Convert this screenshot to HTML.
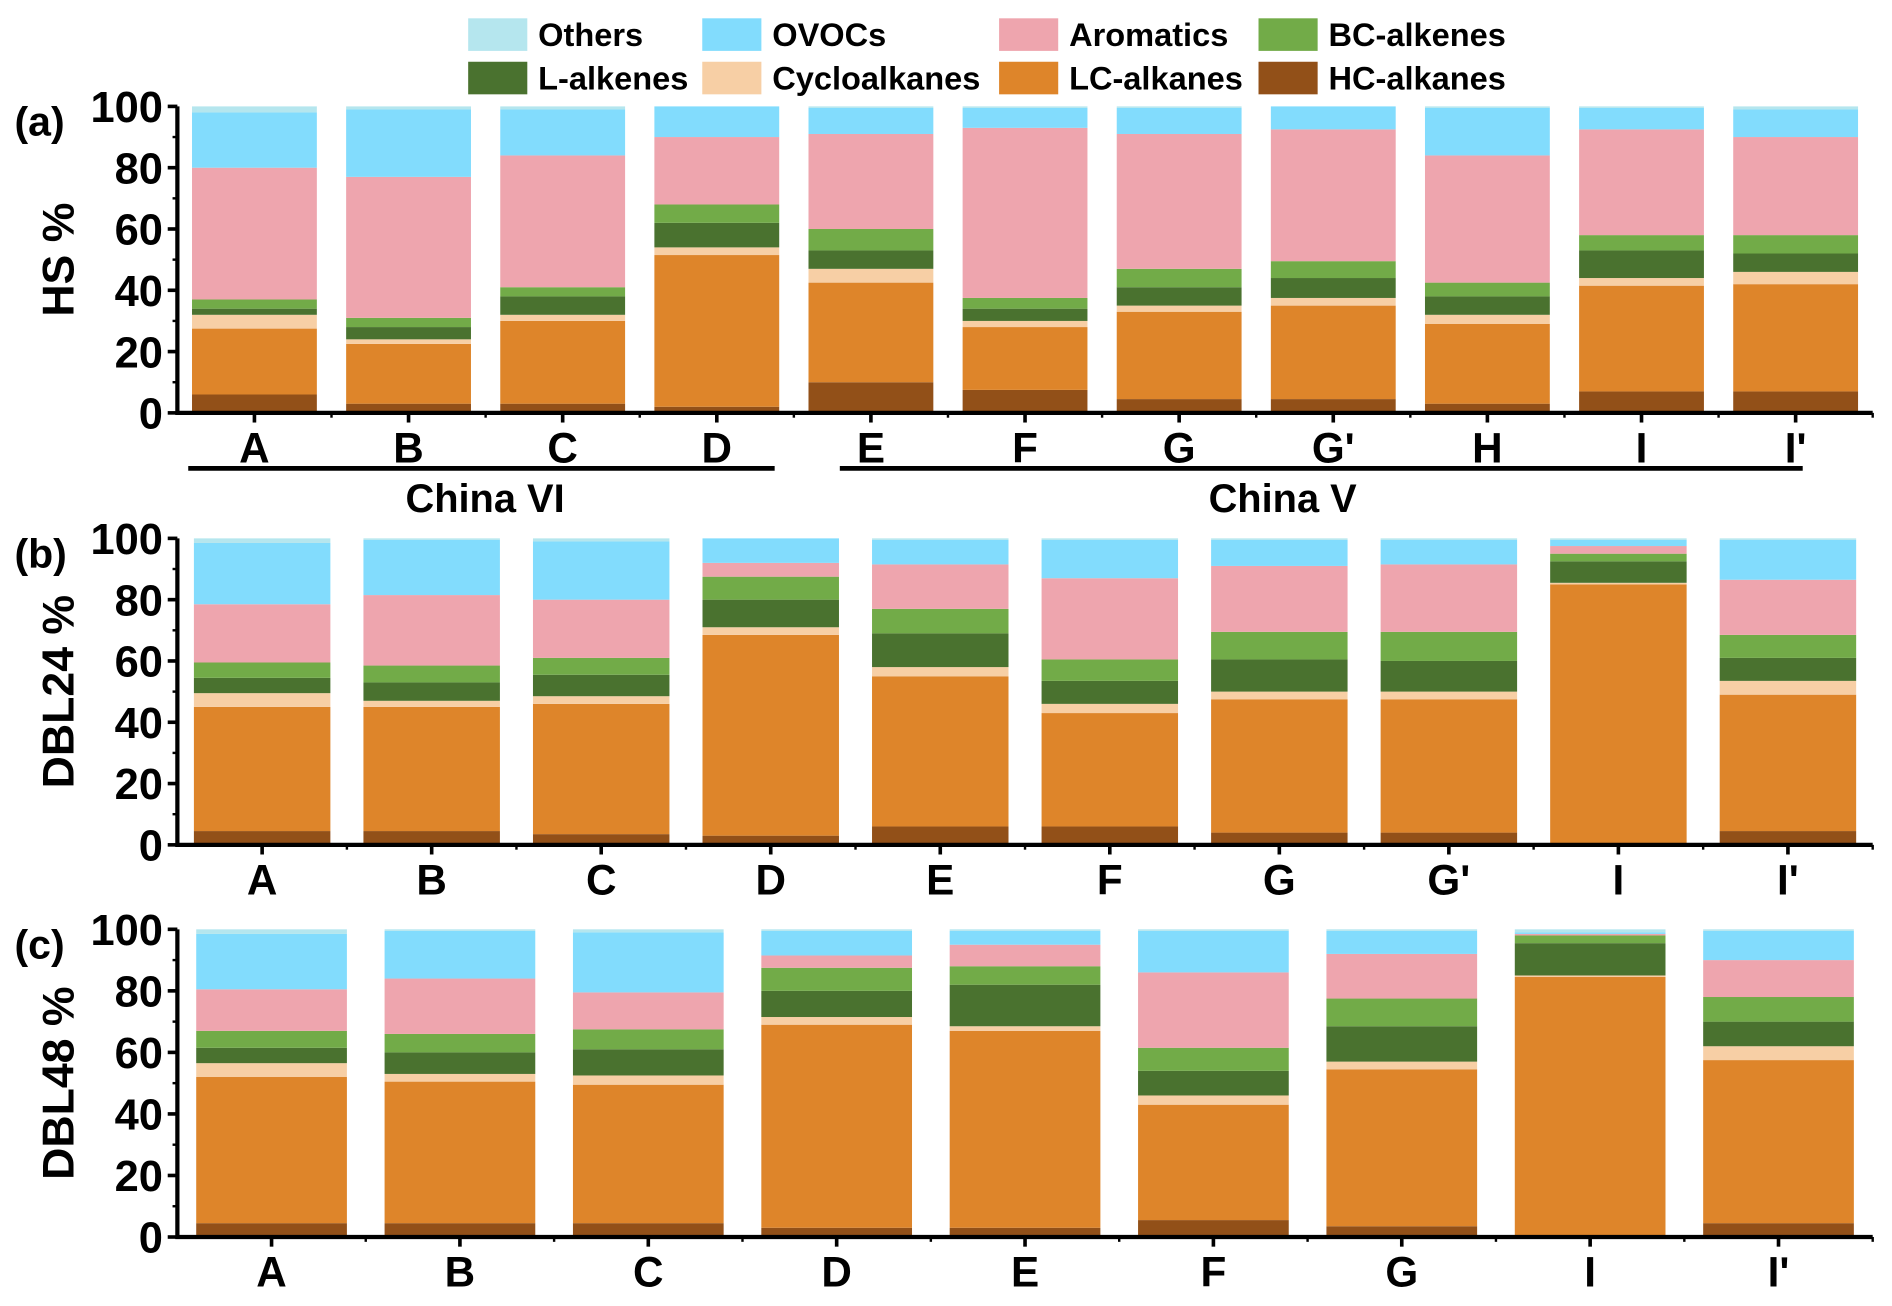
<!DOCTYPE html>
<html><head><meta charset="utf-8"><style>
html,body{margin:0;padding:0;background:#fff}
svg{display:block}
text{font-family:"Liberation Sans",sans-serif;font-weight:bold;fill:#000}
</style></head><body>
<svg id="chart" width="1892" height="1306" viewBox="0 0 1568 1082" xmlns="http://www.w3.org/2000/svg"></svg>
<script>
const seriesNames = ["HC-alkanes","LC-alkanes","Cycloalkanes","L-alkenes","BC-alkenes","Aromatics","OVOCs","Others"];
const seriesColors = ["#925018","#de852a","#f7cfa5","#4a722f","#72ab48","#eea5ae","#82dcfd","#b5e6ee"];
const tickLabels = ["0","20","40","60","80","100"];

const catsA = ["A","B","C","D","E","F","G","G'","H","I","I'"];
const hcA   = [6,3,3,2,10,7.5,4.5,4.5,3,7,7];
const lcA   = [21.5,19.5,27,49.5,32.5,20.5,28.5,30.5,26,34.5,35];
const cyA   = [4.5,1.5,2,2.5,4.5,2,2,2.5,3,2.5,4];
const laA   = [2,4,6,8,6,4,6,6.5,6,9,6];
const bcA   = [3,3,3,6,7,3.5,6,5.5,4.5,5,6];
const arA   = [43,46,43,22,31,55.5,44,43,41.5,34.5,32];
const ovA   = [18,22,15,10,8.5,6.5,8.5,7.5,15.5,7,9];
const otA   = [2,1,1,0,0.5,0.5,0.5,0,0.5,0.5,1];

const catsB = ["A","B","C","D","E","F","G","G'","I","I'"];
const hcB   = [4.5,4.5,3.5,3,6,6,4,4,0.5,4.5];
const lcB   = [40.5,40.5,42.5,65.5,49,37,43.5,43.5,84.5,44.5];
const cyB   = [4.5,2,2.5,2.5,3,3,2.5,2.5,0.5,4.5];
const laB   = [5,6,7,9,11,7.5,10.5,10,7,7.5];
const bcB   = [5,5.5,5.5,7.5,8,7,9,9.5,2.5,7.5];
const arB   = [19,23,19,4.5,14.5,26.5,21.5,22,2.5,18];
const ovB   = [20,18,19,8,8,12.5,8.5,8,2,13];
const otB   = [1.5,0.5,1,0,0.5,0.5,0.5,0.5,0.5,0.5];

const catsC = ["A","B","C","D","E","F","G","I","I'"];
const hcC   = [4.5,4.5,4.5,3,3,5.5,3.5,0.5,4.5];
const lcC   = [47.5,46,45,66,64,37.5,51,84,53];
const cyC   = [4.5,2.5,3,2.5,1.5,3,2.5,0.5,4.5];
const laC   = [5,7,8.5,8.5,13.5,8,11.5,10.5,8];
const bcC   = [5.5,6,6.5,7.5,6,7.5,9,2.5,8];
const arC   = [13.5,18,12,4,7,24.5,14.5,0.5,12];
const ovC   = [18,15.5,19.5,8,4.5,13.5,7.5,0.5,9.5];
const otC   = [1.5,0.5,1,0.5,0.5,0.5,0.5,1,0.5];

const NS="http://www.w3.org/2000/svg";
const svg=document.getElementById('chart');
function mk(tag,attrs,parent){const e=document.createElementNS(NS,tag);for(const k in attrs)e.setAttribute(k,attrs[k]);(parent||svg).appendChild(e);return e;}

function panel(key,label,ytitle,cats,series,y0,y100,barFrac){
  const g=mk('g',{});
  
  
  const x0=147,x1=1552;
  const band=(x1-x0)/cats.length;
  const yS=v=>y0-(y100-y0)*(-v)/100;
  const xC=i=>x0+band*(i+0.5);
  const bw=band*barFrac;
  cats.forEach((c,i)=>{
    let acc=0;
    series.forEach((arr,s)=>{
      const v=arr[i];
      const yt=yS(acc+v), yb=yS(acc);
      acc+=v;
      if(v<=0)return;
      const r=mk('rect',{x:xC(i)-bw/2,y:yt,width:bw,height:yb-yt,fill:seriesColors[s]},g);
      
      
    });
    const t=mk('text',{x:xC(i),y:y0+41,'font-size':35,'text-anchor':'middle'},g);
    t.textContent=c;
    
    
    mk('line',{x1:xC(i),x2:xC(i),y1:y0,y2:y0+8,stroke:'#000','stroke-width':3},g);
    mk('line',{x1:x0+band*(i+1),x2:x0+band*(i+1),y1:y0,y2:y0+4,stroke:'#000','stroke-width':2},g);
  });
  const ax=mk('path',{d:`M${x0},${y100} V${y0} H${x1}`,stroke:'#000','stroke-width':3.5,fill:'none'},g);
  
  
  tickLabels.forEach((l,k)=>{
    const v=+l, y=yS(v);
    mk('line',{x1:x0-8,x2:x0,y1:y,y2:y,stroke:'#000','stroke-width':3},g);
    if(k<tickLabels.length-1) mk('line',{x1:x0-4,x2:x0,y1:yS(v+10),y2:yS(v+10),stroke:'#000','stroke-width':2},g);
    const t=mk('text',{x:x0-12,y:y+13,'font-size':36,'text-anchor':'end'},g);
    t.textContent=l;
    
    
  });
  const pl=mk('text',{x:12,y:y100+24,'font-size':34},g);
  pl.textContent=label;
  
  
  const yc=(y0+y100)/2;
  const yt=mk('text',{x:0,y:0,'font-size':37,'text-anchor':'middle',transform:`translate(61,${yc}) rotate(-90)`},g);
  yt.textContent=ytitle;
  
  
}

panel('a','(a)','HS %',catsA,[hcA,lcA,cyA,laA,bcA,arA,ovA,otA],342,88,0.81);
panel('b','(b)','DBL24 %',catsB,[hcB,lcB,cyB,laB,bcB,arB,ovB,otB],700,446,0.805);
panel('c','(c)','DBL48 %',catsC,[hcC,lcC,cyC,laC,bcC,arC,ovC,otC],1025,770,0.80);

const gl1=mk('line',{x1:156,x2:642,y1:388,y2:388,stroke:'#000','stroke-width':4});


const gt1=mk('text',{x:402,y:424,'font-size':33,'text-anchor':'middle'});
gt1.textContent='China VI';


const gl2=mk('line',{x1:696,x2:1494,y1:388,y2:388,stroke:'#000','stroke-width':4});


const gt2=mk('text',{x:1063,y:424,'font-size':33,'text-anchor':'middle'});
gt2.textContent='China V';



const legendOrder=[[7,388,15],[6,582,15],[5,828,15],[4,1043,15],[3,388,51],[2,582,51],[1,828,51],[0,1043,51]];
legendOrder.forEach(([s,x,y])=>{
  const lg=mk('g',{});
  
  
  mk('rect',{x:x,y:y,width:49,height:27,fill:seriesColors[s]},lg);
  const t=mk('text',{x:x+58,y:y+23,'font-size':27},lg);
  t.textContent=seriesNames[s];
});
</script>
</body></html>
